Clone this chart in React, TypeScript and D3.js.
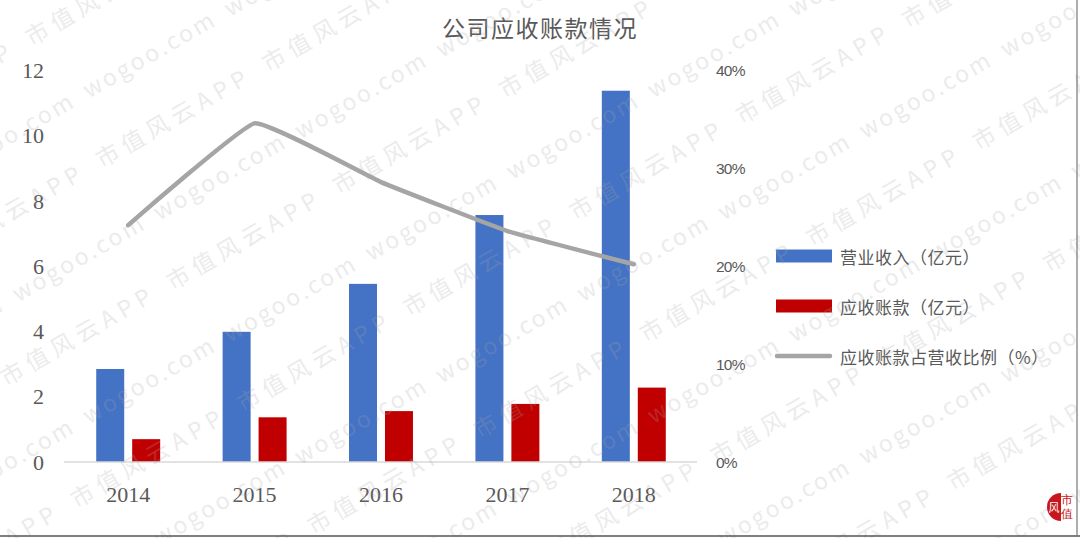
import React from 'react';
import * as d3 from 'd3';

// Annual figures (亿元) and receivable share of revenue
const years = ['2014', '2015', '2016', '2017', '2018'];
const revenue = [2.85, 3.99, 5.46, 7.57, 11.38];
const receivables = [0.7, 1.37, 1.56, 1.78, 2.28];
const receivableRatio = [0.242, 0.346, 0.286, 0.236, 0.202];
const leftTicks = [0, 2, 4, 6, 8, 10, 12];
const rightTicks = [0, 0.1, 0.2, 0.3, 0.4];
const title = '公司应收账款情况';
const seriesNames = ['营业收入（亿元）', '应收账款（亿元）', '应收账款占营收比例（%）'];
const watermarkTexts = ['wogoo.com', '市值风云APP'];

const W = 1080;
const H = 538;
const BLUE = '#4472c4';
const RED = '#c00000';
const GRAY_LINE = '#a5a5a5';
const TEXT = '#595959';
const CJK = '"Noto Sans CJK SC", "Noto Sans", sans-serif';
const SERIF = '"Liberation Serif", "DejaVu Serif", serif';

function Watermark() {
  // Diagonal tiling of the two brand strings, rotated -30°
  const items: JSX.Element[] = [];
  for (let k = -1; k <= 7; k++) {
    const v1 = 120 + 141 * k;
    for (let j = -3; j <= 6; j++) {
      items.push(
        <text key={`a${k}_${j}`} x={101 + 163 * j} y={v1} textLength={147} lengthAdjust="spacing"
          textAnchor="middle" dominantBaseline="central">{watermarkTexts[0]}</text>
      );
    }
    const v2 = 187 + 141 * k;
    for (let j = -3; j <= 5; j++) {
      items.push(
        <text key={`b${k}_${j}`} x={89 + 192 * j} y={v2} textLength={170} lengthAdjust="spacing"
          textAnchor="middle" dominantBaseline="central">{watermarkTexts[1]}</text>
      );
    }
  }
  return (
    <g transform="rotate(-30)" fontFamily={CJK} fontSize={23} fill="#a8a8a8" opacity={0.22}
      pointerEvents="none">
      {items}
    </g>
  );
}

export default function App() {
  const x = d3.scaleBand<string>().domain(years).range([65, 697]).paddingInner(0).paddingOuter(0);
  const yL = d3.scaleLinear().domain([0, 12]).range([462, 70.5]);
  const yR = d3.scaleLinear().domain([0, 0.4]).range([462, 70.5]);
  const bw = x.bandwidth();
  const barW = bw * 0.2215;
  const gap = bw * 0.063;
  const cx = (y: string) => (x(y) as number) + bw / 2;

  const line = d3
    .line<number>()
    .x((_, i) => cx(years[i]))
    .y((d) => yR(d))
    .curve(d3.curveCardinal.tension(0.7));

  const legendY = [256, 306, 356];

  return (
    <svg width={W} height={H} style={{ position: 'absolute', left: 0, top: 0, background: '#fff' }}>
      <rect x={0} y={0} width={W} height={H} fill="#fff" />

      <text x={540} y={27} textAnchor="middle" dominantBaseline="central" fontFamily={CJK}
        fontSize={23} letterSpacing={1.5} fill={TEXT}>{title}</text>

      {/* left axis labels */}
      {leftTicks.map((t) => (
        <text key={`l${t}`} x={44} y={yL(t)} textAnchor="end" dominantBaseline="central"
          fontFamily={SERIF} fontSize={22} fill={TEXT}>{t}</text>
      ))}

      {/* right axis labels */}
      {rightTicks.map((t) => (
        <text key={`r${t}`} x={716} y={yR(t)} textAnchor="start" dominantBaseline="central"
          fontFamily='"Liberation Sans", Arial, sans-serif' fontSize={15.5} letterSpacing={-0.8}
          fill={TEXT}>{d3.format('.0%')(t)}</text>
      ))}

      {/* bars */}
      {years.map((yr, i) => (
        <g key={yr}>
          <rect x={cx(yr) - gap / 2 - barW} y={yL(revenue[i])} width={barW}
            height={yL(0) - yL(revenue[i])} fill={BLUE} />
          <rect x={cx(yr) + gap / 2} y={yL(receivables[i])} width={barW}
            height={yL(0) - yL(receivables[i])} fill={RED} />
        </g>
      ))}

      {/* baseline */}
      <line x1={64} x2={697} y1={yL(0)} y2={yL(0)} stroke="#d9d9d9" strokeWidth={1.5} />

      {/* ratio line */}
      <path d={line(receivableRatio) || ''} fill="none" stroke={GRAY_LINE} strokeWidth={4.5}
        strokeLinecap="round" strokeLinejoin="round" />

      {/* category labels */}
      {years.map((yr) => (
        <text key={`c${yr}`} x={cx(yr)} y={494} textAnchor="middle" dominantBaseline="central"
          fontFamily={SERIF} fontSize={22} fill={TEXT}>{yr}</text>
      ))}

      {/* legend */}
      <rect x={776} y={legendY[0] - 6.5} width={56} height={13} fill={BLUE} />
      <rect x={776} y={legendY[1] - 6.5} width={56} height={13} fill={RED} />
      <line x1={777} x2={830} y1={legendY[2]} y2={legendY[2]} stroke={GRAY_LINE} strokeWidth={4.5}
        strokeLinecap="round" />
      {seriesNames.map((s, i) => (
        <text key={s} x={840} y={legendY[i]} dominantBaseline="central" fontFamily={CJK}
          fontSize={17} letterSpacing={0.5} fill={TEXT}>{s}</text>
      ))}

      <Watermark />

      {/* frame edges */}
      <line x1={0} x2={W} y1={536} y2={536} stroke="#555" strokeWidth={1.5} />
      <line x1={1077} x2={1077} y1={0} y2={536} stroke="#777" strokeWidth={1.2} />

      {/* brand seal */}
      <path d="M1061,493 A14,14 0 0 0 1061,521 Z" fill="#c8161d" />
      <text x={1054} y={507} textAnchor="middle" dominantBaseline="central" fontFamily={CJK}
        fontSize={11} fill="#fff">风</text>
      <text x={1067} y={500} textAnchor="middle" dominantBaseline="central" fontFamily={SERIF}
        fontSize={12} fill="#c8161d">市</text>
      <text x={1067} y={514} textAnchor="middle" dominantBaseline="central" fontFamily={SERIF}
        fontSize={12} fill="#c8161d">值</text>
    </svg>
  );
}
